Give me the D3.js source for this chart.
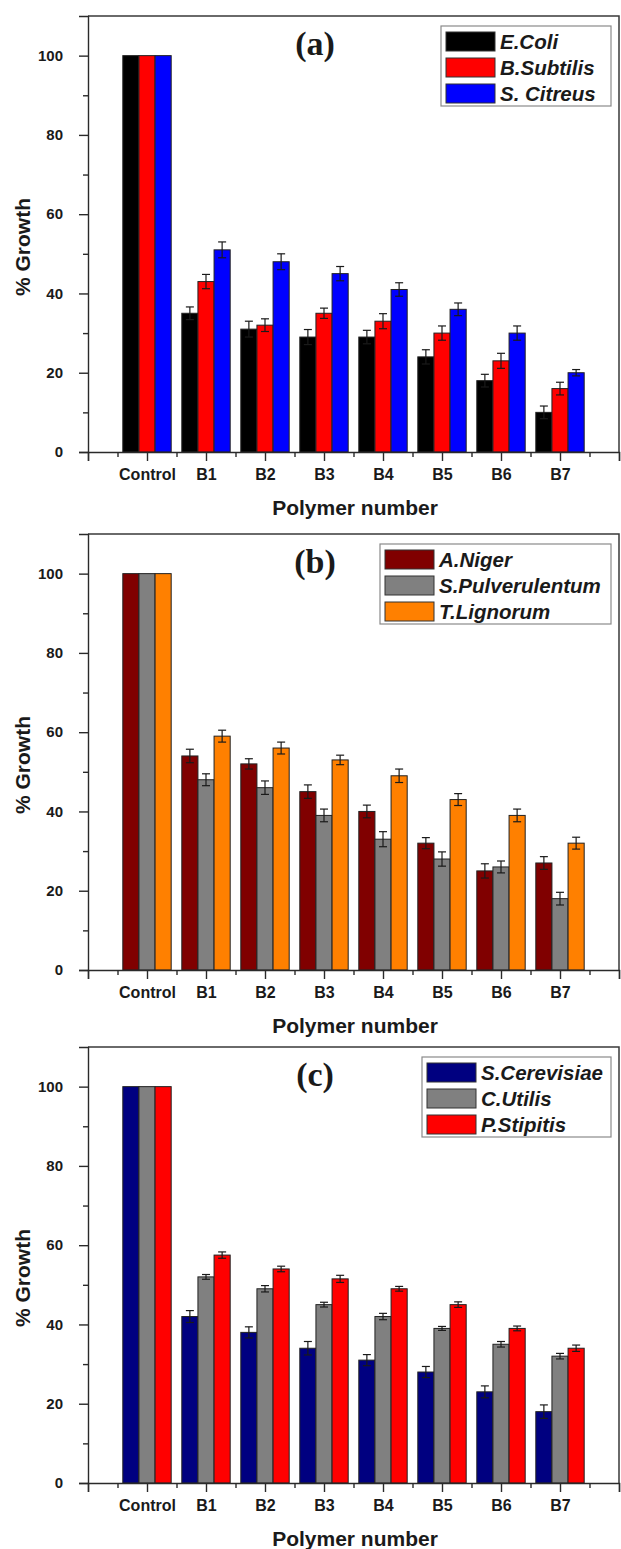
<!DOCTYPE html>
<html>
<head>
<meta charset="utf-8">
<script src="https://cdn.jsdelivr.net/npm/d3@7"></script>
<style>
  body { margin: 0; background: #fff; }
  svg { display: block; }
  text { font-family: "Liberation Sans", Arial, sans-serif; fill: #1a1a1a; }
</style>
</head>
<body>
<div id="chart"></div>
<script>
// categories on the x axis
var categories = ["Control", "B1", "B2", "B3", "B4", "B5", "B6", "B7"];
var yMajor = [0, 20, 40, 60, 80, 100];
var yMinor = [10, 30, 50, 70, 90];

// (a) bacteria
var ecoli      = [100, 35, 31, 29, 29, 24, 18, 10];
var ecoliErr   = [0, 1.6, 2.0, 1.9, 1.7, 1.8, 1.6, 1.6];
var subtilis   = [100, 43, 32, 35, 33, 30, 23, 16];
var subtilisErr= [0, 1.8, 1.6, 1.3, 1.9, 1.8, 1.9, 1.6];
var citreus    = [100, 51, 48, 45, 41, 36, 30, 20];
var citreusErr = [0, 2.0, 2.0, 1.8, 1.7, 1.6, 1.8, 0.8];

// (b) fungi
var niger      = [100, 54, 52, 45, 40, 32, 25, 27];
var nigerErr   = [0, 1.7, 1.3, 1.7, 1.6, 1.4, 1.8, 1.6];
var pulver     = [100, 48, 46, 39, 33, 28, 26, 18];
var pulverErr  = [0, 1.5, 1.7, 1.6, 1.9, 1.8, 1.5, 1.6];
var lignorum   = [100, 59, 56, 53, 49, 43, 39, 32];
var lignorumErr= [0, 1.5, 1.5, 1.2, 1.7, 1.5, 1.6, 1.5];

// (c) yeasts
var cerevisiae    = [100, 42, 38, 34, 31, 28, 23, 18];
var cerevisiaeErr = [0, 1.5, 1.4, 1.7, 1.4, 1.4, 1.5, 1.7];
var utilis        = [100, 52, 49, 45, 42, 39, 35, 32];
var utilisErr     = [0, 0.6, 0.8, 0.6, 0.8, 0.5, 0.7, 0.7];
var stipitis      = [100, 57.5, 54, 51.5, 49, 45, 39, 34];
var stipitisErr   = [0, 0.8, 0.7, 0.9, 0.6, 0.7, 0.6, 0.8];

var panels = [
  { title: "(a)", top: 16, legendW: 170,
    names: ["E.Coli", "B.Subtilis", "S. Citreus"],
    colors: ["#000000", "#ff0000", "#0000ff"],
    values: [ecoli, subtilis, citreus],
    errors: [ecoliErr, subtilisErr, citreusErr] },
  { title: "(b)", top: 534, legendW: 231,
    names: ["A.Niger", "S.Pulverulentum", "T.Lignorum"],
    colors: ["#800000", "#808080", "#ff8000"],
    values: [niger, pulver, lignorum],
    errors: [nigerErr, pulverErr, lignorumErr] },
  { title: "(c)", top: 1047, legendW: 189,
    names: ["S.Cerevisiae", "C.Utilis", "P.Stipitis"],
    colors: ["#000080", "#808080", "#ff0000"],
    values: [cerevisiae, utilis, stipitis],
    errors: [cerevisiaeErr, utilisErr, stipitisErr] }
];

var W = 621, H = 1549;
var left = 88, right = 619, plotH = 436;

var svg = d3.select("#chart").append("svg")
  .attr("width", W).attr("height", H);

function drawPanel(p) {
  var g = svg.append("g").attr("transform", "translate(0," + p.top + ")");

  var x = d3.scaleLinear().domain([0, 9]).range([left, right]);
  var y = d3.scaleLinear().domain([0, 110]).range([plotH, 0]);
  var step = x(1) - x(0);
  var sub = d3.scaleBand().domain(d3.range(p.names.length))
    .range([-step * 0.41, step * 0.41]);

  // frame (top + right)
  g.append("path")
    .attr("d", "M" + left + "," + y(110) + "H" + right + "V" + y(0))
    .attr("fill", "none").attr("stroke", "#3a3a3a").attr("stroke-width", 1.5);

  // bars
  p.values.forEach(function(vals, s) {
    var rows = vals.map(function(v, i) { return { i: i, v: v, e: p.errors[s][i] }; });
    var sg = g.append("g");
    sg.selectAll("rect").data(rows).enter().append("rect")
      .attr("x", function(d) { return x(d.i + 1) + sub(s); })
      .attr("y", function(d) { return y(d.v); })
      .attr("width", sub.bandwidth())
      .attr("height", function(d) { return y(0) - y(d.v); })
      .attr("fill", p.colors[s])
      .attr("stroke", "#222").attr("stroke-width", 1);

    var eb = sg.selectAll("g.err").data(rows.filter(function(d) { return d.e > 0; }))
      .enter().append("g").attr("class", "err")
      .attr("stroke", "#1a1a1a").attr("stroke-width", 1.2);
    var cx = function(d) { return x(d.i + 1) + sub(s) + sub.bandwidth() / 2; };
    eb.append("line")
      .attr("x1", cx).attr("x2", cx)
      .attr("y1", function(d) { return y(d.v - d.e); })
      .attr("y2", function(d) { return y(d.v + d.e); });
    [-1, 1].forEach(function(k) {
      eb.append("line")
        .attr("x1", function(d) { return cx(d) - 4; })
        .attr("x2", function(d) { return cx(d) + 4; })
        .attr("y1", function(d) { return y(d.v + k * d.e); })
        .attr("y2", function(d) { return y(d.v + k * d.e); });
    });
  });

  // y axis
  var ya = g.append("g").attr("transform", "translate(" + left + ",0)")
    .call(d3.axisLeft(y).tickValues(yMajor).tickSize(9).tickPadding(16));
  g.append("g").attr("transform", "translate(" + left + ",0)")
    .call(d3.axisLeft(y).tickValues(yMinor).tickSize(5).tickFormat(""))
    .select(".domain").remove();
  ya.selectAll("text").style("font-size", "15px").style("font-weight", "bold");

  // x axis
  var xa = g.append("g").attr("transform", "translate(0," + y(0) + ")")
    .call(d3.axisBottom(x).tickValues(d3.range(0, 10)).tickSize(9).tickPadding(8)
      .tickFormat(function(d) { return categories[d - 1] || ""; }));
  g.append("g").attr("transform", "translate(0," + y(0) + ")")
    .call(d3.axisBottom(x).tickValues(d3.range(0.5, 9, 1)).tickSize(5).tickFormat(""))
    .select(".domain").remove();
  xa.selectAll("text").style("font-size", "16px").style("font-weight", "bold");

  g.selectAll(".domain, .tick line").attr("stroke", "#2a2a2a").attr("stroke-width", 1.4);

  // axis titles
  g.append("text")
    .attr("x", 355).attr("y", y(0) + 63)
    .attr("text-anchor", "middle")
    .style("font-size", "21px").style("font-weight", "bold")
    .text("Polymer number");
  g.append("text")
    .attr("transform", "translate(30," + (plotH / 2 + 13) + ") rotate(-90)")
    .attr("text-anchor", "middle")
    .style("font-size", "21px").style("font-weight", "bold")
    .text("% Growth");

  // panel label
  g.append("text")
    .attr("x", 315).attr("y", 39)
    .attr("text-anchor", "middle")
    .style("font-family", "'Liberation Serif', 'Times New Roman', serif")
    .style("font-size", "34px").style("font-weight", "bold")
    .text(p.title);

  // legend
  var lx = 611 - p.legendW, ly = 10;
  var leg = g.append("g").attr("transform", "translate(" + lx + "," + ly + ")");
  leg.append("rect")
    .attr("width", p.legendW).attr("height", 80)
    .attr("fill", "#fff").attr("stroke", "#8a8a8a").attr("stroke-width", 1.2);
  p.names.forEach(function(n, i) {
    leg.append("rect")
      .attr("x", 5).attr("y", 6 + i * 26)
      .attr("width", 49).attr("height", 19)
      .attr("fill", p.colors[i]).attr("stroke", "#333").attr("stroke-width", 1);
    leg.append("text")
      .attr("x", 59).attr("y", 23 + i * 26)
      .style("font-size", "20.5px").style("font-weight", "bold").style("font-style", "italic")
      .text(n);
  });
}

panels.forEach(drawPanel);
</script>
</body>
</html>
